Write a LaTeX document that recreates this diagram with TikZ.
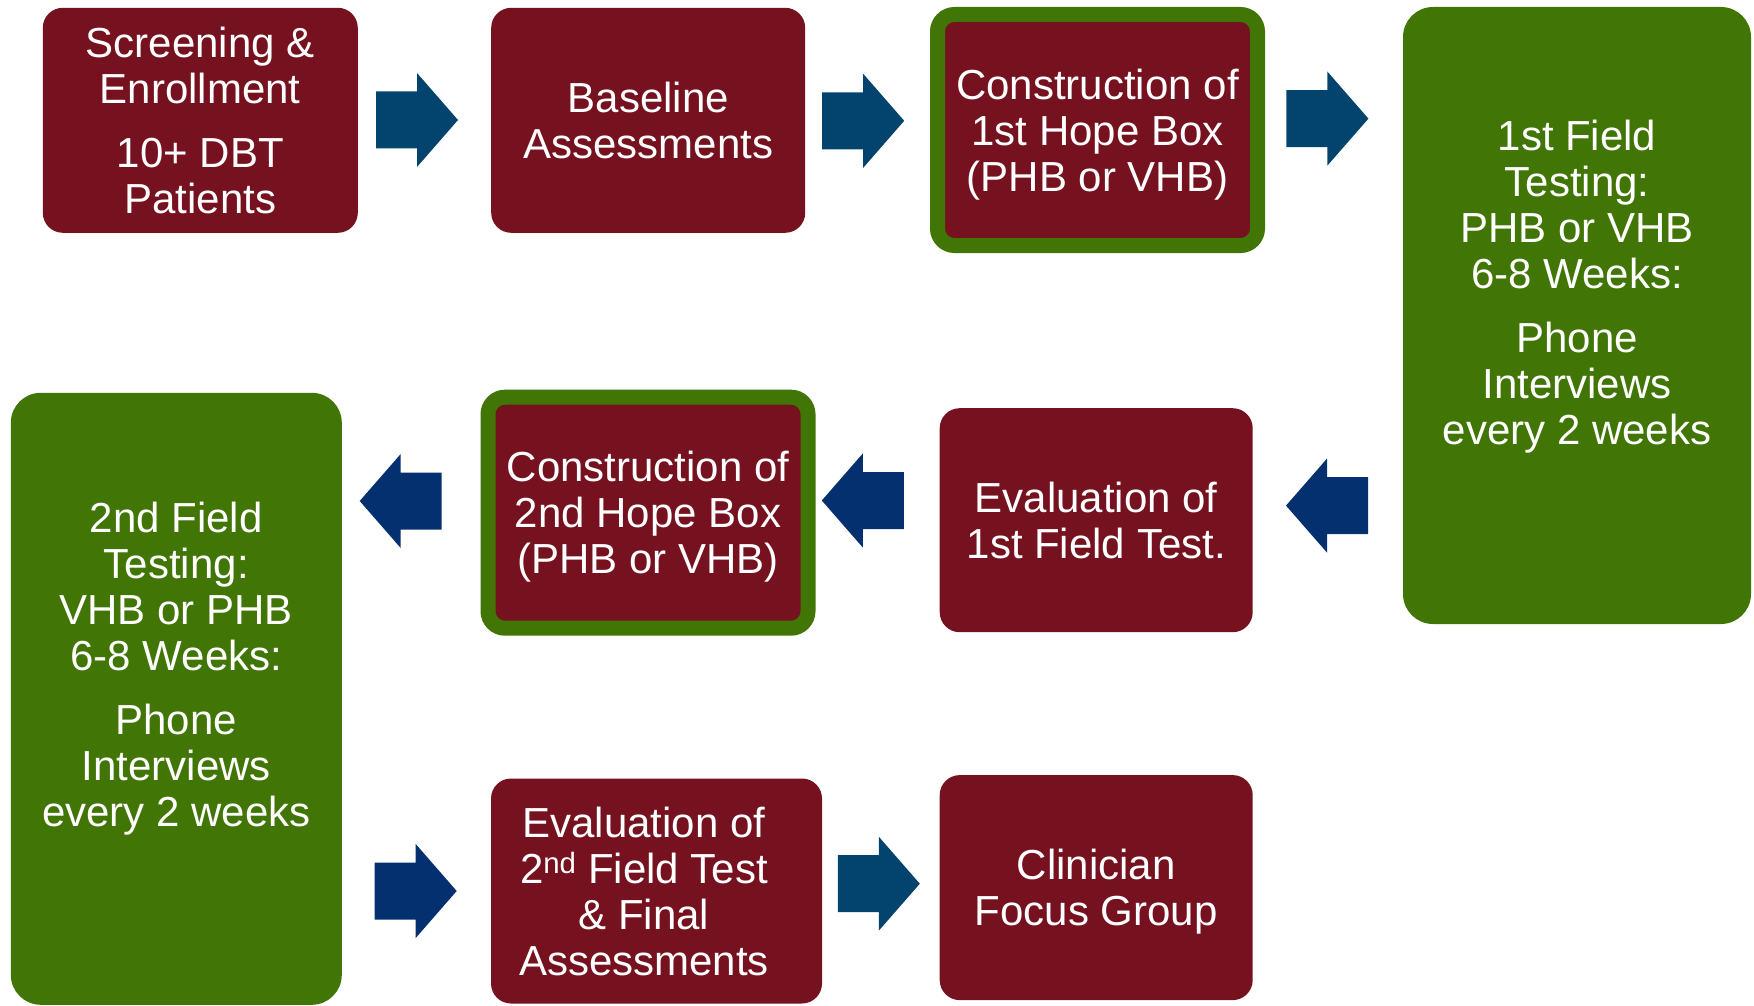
\documentclass[tikz,border=0pt]{standalone}
\usepackage{fontspec}
\setmainfont{Liberation Sans}
\usepackage{tikz}
\definecolor{boxred}{HTML}{76121F}
\definecolor{boxgreen}{HTML}{417505}
\definecolor{arrteal}{HTML}{03446E}
\definecolor{arrnavy}{HTML}{04306F}

\begin{document}
\begin{tikzpicture}[x=1pt,y=-1pt,
	every node/.style={font=\fontsize{42}{46}\selectfont, text=white, align=center},
	redbox/.style={fill=boxred, rounded corners=20pt, minimum width=314pt, minimum height=225pt},
	greenbox/.style={fill=boxgreen, rounded corners=30pt},
	hopebox/.style={fill=boxred, draw=boxgreen, line width=15pt, rounded corners=17pt, minimum width=320pt, minimum height=231pt},
	blockarr/.pic={\fill (0,-28.5) -- (41,-28.5) -- (41,-47) -- (82,0) -- (41,47) -- (41,28.5) -- (0,28.5) -- cycle;}]
	\useasboundingbox (0,0) rectangle (1754,1006);

	\node (screen) [redbox, minimum width=315pt] at (200.3,120.3) {Screening \&\\Enrollment\\[18pt]10+ DBT\\Patients};
	\node (base) [redbox] at (648.2,120.3) {Baseline\\Assessments};
	\node (hope1) [hopebox, text depth=-8pt] at (1097.5,130) {Construction of\\1st Hope Box\\(PHB or VHB)};
	\node (field1) [greenbox, minimum width=348pt, minimum height=617pt] at (1577,315.5) {};
	\node (field1txt) at (1577,287) {1st Field\\Testing:\\PHB or VHB\\6-8 Weeks:\\[18pt]Phone\\Interviews\\every 2 weeks};

	\node (eval1) [redbox, minimum width=313pt, minimum height=224pt] at (1096.2,520.2) {Evaluation of\\1st Field Test.};
	\node (hope2) [hopebox, text depth=-8pt] at (648,512.7) {Construction of\\2nd Hope Box\\(PHB or VHB)};
	\node (field2) [greenbox, minimum width=331pt, minimum height=612pt] at (176.3,698.8) {};
	\node (field2txt) at (176.3,669) {2nd Field\\Testing:\\VHB or PHB\\6-8 Weeks:\\[18pt]Phone\\Interviews\\every 2 weeks};

	\node (eval2) [redbox, minimum width=331pt] at (656.5,891) {};
	\node (eval2txt) at (644,891) {Evaluation of\\2\textsuperscript{nd} Field Test\\\& Final\\Assessments};
	\node (focus) [redbox, minimum width=313pt] at (1096.2,887.6) {};
	\node (focustxt) at (1096.2,892) {Clinician\\Focus Group};

	\pic (a1) [arrteal] at (376,120) {blockarr};
	\pic (a2) [arrteal] at (822.2,120.8) {blockarr};
	\pic (a3) [arrteal] at (1286.4,118.6) {blockarr};
	\pic (a4) [arrnavy, xscale=-1] at (1368,505.6) {blockarr};
	\pic (a5) [arrnavy, xscale=-1] at (903.8,500.5) {blockarr};
	\pic (a6) [arrnavy, xscale=-1] at (441.7,501) {blockarr};
	\pic (a7) [arrnavy] at (374.7,891) {blockarr};
	\pic (a8) [arrteal] at (837.8,883.7) {blockarr};
\end{tikzpicture}
\end{document}
